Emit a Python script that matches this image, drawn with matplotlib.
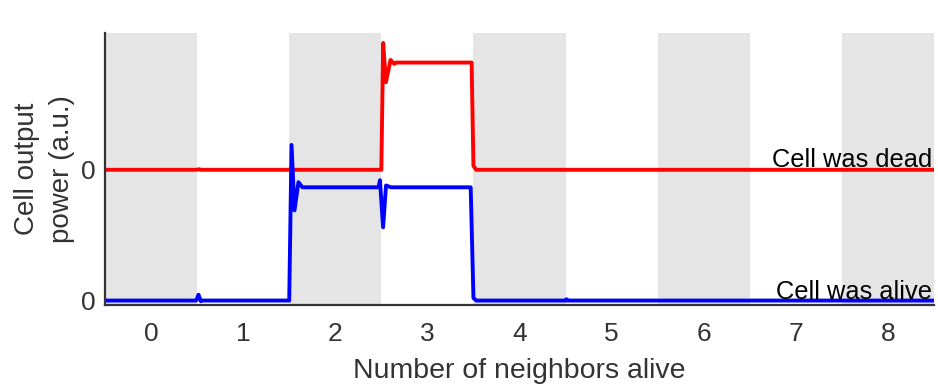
import numpy as np
import matplotlib.pyplot as plt

plt.rcParams['font.family'] = ['Liberation Sans', 'DejaVu Sans']

# --- data ---
# neighbor counts shown on the x axis
neighbors = [0, 1, 2, 3, 4, 5, 6, 7, 8]
shaded = [0, 2, 4, 6, 8]

# trace vertices: cell that was dead (offset by 1 on the plot)
dead_x = [-0.5, 0.5, 0.52, 0.54, 1.5, 1.52, 1.54, 2.5, 2.52, 2.55, 2.6, 2.64, 2.66,
          3.48, 3.50, 3.53, 8.5]
dead_y = [0.0, 0.0, 0.005, 0.0, 0.0, 0.01, 0.0, 0.0, 0.97, 0.67, 0.84, 0.81, 0.82,
          0.82, 0.03, 0.0, 0.0]

# trace vertices: cell that was alive
alive_x = [-0.5, 0.49, 0.515, 0.54, 0.56, 1.5, 1.525, 1.557, 1.60, 1.643,
           2.47, 2.485, 2.519, 2.551, 2.605, 3.47, 3.50, 3.53, 4.5, 4.51, 4.52, 8.5]
alive_y = [0.0, 0.0, 0.045, -0.005, 0.0, 0.0, 1.19, 0.69, 0.905, 0.866,
           0.866, 0.92, 0.56, 0.88, 0.866, 0.866, 0.02, 0.0, 0.0, 0.01, 0.0, 0.0]

dead_offset = 1.0

# --- plot ---
fig = plt.figure(figsize=(9.38, 3.9), dpi=100)
ax = fig.add_axes([105 / 938, 1 - 305 / 390, 829 / 938, 272 / 390])

for c in shaded:
    ax.axvspan(c - 0.5, c + 0.5, color="#e5e5e5", lw=0, zorder=0)

ax.plot(dead_x, np.array(dead_y) + dead_offset, color="#ff0000", lw=2.8,
        solid_joinstyle="round")
ax.plot(alive_x, alive_y, color="#0000ff", lw=2.8, solid_joinstyle="round")

ax.text(8.48, dead_offset + 0.018, "Cell was dead", ha="right", va="baseline",
        fontsize=18.3, color="black")
ax.text(8.48, 0.013, "Cell was alive", ha="right", va="baseline",
        fontsize=18.3, color="black")

ax.set_xlim(-0.5, 8.5)
ax.set_ylim(-0.034, 2.046)
ax.set_xticks(neighbors)
ax.set_xticklabels([str(n) for n in neighbors])
ax.set_yticks([0, dead_offset])
ax.set_yticklabels(["0", "0"])
ax.tick_params(axis="both", length=0, labelsize=19, colors="#333333")
ax.tick_params(axis="x", pad=12)
ax.tick_params(axis="y", pad=7)

for s in ["top", "right"]:
    ax.spines[s].set_visible(False)
for s in ["left", "bottom"]:
    ax.spines[s].set_color("#333333")
    ax.spines[s].set_linewidth(1.6)

ax.set_xlabel("Number of neighbors alive", fontsize=20.5, color="#333333", labelpad=9)
ax.set_ylabel("Cell output\npower (a.u.)", fontsize=20, color="#333333",
              linespacing=1.45)
ax.yaxis.set_label_coords(-0.036, 0.5)

fig.savefig("out.png", dpi=100)
